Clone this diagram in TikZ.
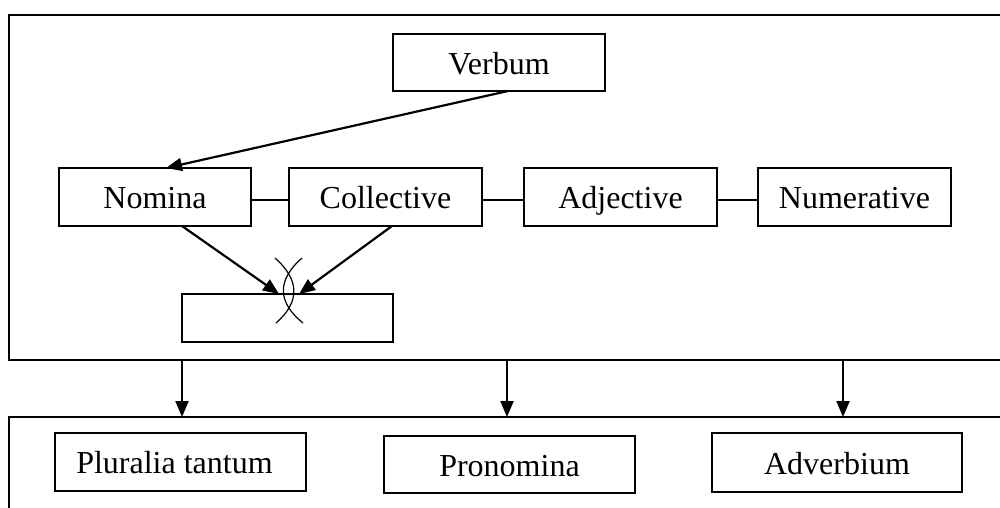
\documentclass[tikz,border=0pt]{standalone}
\usepackage{fontspec}
\setmainfont{Liberation Serif}
\usetikzlibrary{arrows.meta}
\begin{document}
\begin{tikzpicture}[x=1pt,y=-1pt,
  box/.style={draw,line width=2pt,inner sep=0pt,text height=23.5pt,text depth=0pt,font=\fontsize{32}{38}\selectfont},
  frame/.style={line width=2pt},
  conn/.style={line width=2pt},
  arr/.style={line width=2.2pt,-{Triangle[length=16pt,width=13pt]}},
  arcline/.style={line width=1.2pt}]
\useasboundingbox (0,0) rectangle (1000,507);
% outer frames (open on the right / bottom)
\draw[frame] (1003,15) -- (9,15) -- (9,360) -- (1003,360);
\draw[frame] (1003,417) -- (9,417) -- (9,510);
% boxes
\node[box,minimum width=212pt,minimum height=57pt] (verbum) at (499,62.5) {Verbum};
\node[box,minimum width=192pt,minimum height=58pt] (nomina) at (155,197) {Nomina};
\node[box,minimum width=193pt,minimum height=58pt] (collective) at (385.5,197) {Collective};
\node[box,minimum width=193pt,minimum height=58pt] (adjective) at (620.5,197) {Adjective};
\node[box,minimum width=193pt,minimum height=58pt] (numerative) at (854.5,197) {Numerative};
\node[box,minimum width=211pt,minimum height=48pt] (empty) at (287.5,318) {};
\node[box,minimum width=251pt,minimum height=58pt] (pluralia) at (180.5,462) {\hspace*{-12pt}Pluralia tantum};
\node[box,minimum width=251pt,minimum height=57pt] (pronomina) at (509.5,464.5) {Pronomina};
\node[box,minimum width=250pt,minimum height=59pt] (adverbium) at (837,462.5) {Adverbium};
% horizontal connectors
\draw[conn] ([yshift=-3pt]nomina.east) -- ([yshift=-3pt]collective.west);
\draw[conn] ([yshift=-3pt]collective.east) -- ([yshift=-3pt]adjective.west);
\draw[conn] ([yshift=-3pt]adjective.east) -- ([yshift=-3pt]numerative.west);
% arrows
\coordinate (vstart) at (508,91);
\coordinate (vend) at (166,168);
\draw[arr] (vstart) -- (vend);
\coordinate (nstart) at (182,226);
\coordinate (nend) at (279,294);
\coordinate (cstart) at (392,226);
\coordinate (cend) at (299,294);
\draw[arr] (nstart) -- (nend);
\draw[arr] (cstart) -- (cend);
% crossing arcs
\draw[arcline] (275,258) .. controls (300,280) and (300,302) .. (276,323);
\draw[arcline] (302,258) .. controls (277,280) and (277,302) .. (303,323);
% arrows between frames
\coordinate (t1) at (182,360); \coordinate (b1) at (182,417);
\coordinate (t2) at (507,360); \coordinate (b2) at (507,417);
\coordinate (t3) at (843,360); \coordinate (b3) at (843,417);
\draw[arr] (t1) -- (b1);
\draw[arr] (t2) -- (b2);
\draw[arr] (t3) -- (b3);
\end{tikzpicture}
\end{document}
